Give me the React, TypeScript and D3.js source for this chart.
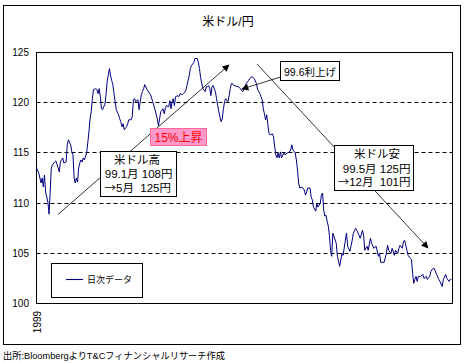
import React from 'react';
import * as d3 from 'd3';

// 1999 USD/JPY daily, day of year -> rate
const days = [
  0, 2, 4, 5, 6, 7, 8, 10, 11, 12, 13, 14, 16, 17, 19, 20, 21, 23, 24, 26,
  27, 28, 30, 31, 32, 33, 34, 35, 36, 37, 38, 39, 40, 41, 42, 44, 45, 46, 47, 48,
  49, 50, 52, 53, 54, 55, 56, 57, 58, 59, 60, 61, 62, 64, 65, 66, 67, 68, 69, 70,
  72, 73, 74, 75, 76, 77, 79, 80, 81, 83, 84, 85, 86, 87, 89, 90, 91, 92, 93, 94,
  95, 97, 100, 102, 104, 106, 107, 108, 109, 111, 112, 113, 114, 116, 117, 118, 119, 120, 121, 122,
  124, 125, 126, 128, 129, 131, 132, 134, 135, 136, 138, 139, 141, 142, 143, 144, 145, 146, 148, 149,
  150, 151, 152, 153, 154, 155, 156, 157, 158, 159, 160, 162, 163, 164, 165, 166, 167, 168, 169, 170,
  171, 172, 173, 174, 176, 177, 179, 180, 181, 183, 184, 186, 187, 189, 191, 193, 194, 196, 197, 198,
  199, 200, 201, 202, 203, 204, 205, 207, 208, 209, 210, 211, 212, 213, 214, 215, 217, 218, 220, 222,
  223, 224, 225, 227, 228, 229, 230, 231, 233, 235, 236, 237, 238, 240, 241, 242, 243, 245, 246, 247,
  248, 249, 250, 251, 252, 253, 254, 255, 256, 257, 258, 259, 260, 263, 264, 266, 268, 269, 271, 272,
  273, 275, 277, 278, 280, 281, 283, 284, 286, 287, 288, 290, 291, 293, 294, 296, 298, 300, 301, 302,
  304, 305, 307, 308, 309, 311, 312, 314, 315, 317, 318, 319, 321, 322, 323, 325, 326, 328, 329, 330,
  331, 332, 333, 334, 335, 337, 339, 340, 342, 343, 345, 346, 348, 349, 351, 353, 354, 356, 357, 359,
  360, 362, 363, 364,
];

const rates = [
  113.5, 113.0, 112.0, 112.5, 111.6, 112.8, 111.1, 110.1, 108.9, 111.1, 113.5, 113.8, 114.1, 114.2, 113.5, 113.1, 114.1, 114.5, 114.0, 114.1,
  115.8, 116.3, 115.8, 115.1, 114.8, 112.5, 112.0, 112.5, 112.1, 113.5, 114.0, 114.3, 114.1, 114.5, 114.3, 115.0, 116.0, 117.1, 118.4, 119.1,
  120.4, 121.3, 121.4, 121.3, 120.9, 121.4, 120.6, 119.4, 119.3, 119.6, 119.8, 120.8, 122.1, 123.4, 122.7, 122.2, 121.8, 120.9, 120.1, 119.3,
  118.8, 118.4, 118.1, 117.6, 117.9, 117.3, 117.6, 117.9, 118.3, 118.3, 118.6, 120.3, 120.4, 120.1, 120.3, 119.3, 120.1, 120.8, 121.1, 121.4,
  121.8, 121.3, 120.8, 120.1, 119.3, 118.4, 117.7, 118.4, 119.1, 119.4, 118.9, 119.4, 119.7, 119.6, 120.2, 119.4, 120.1, 120.4, 119.7, 120.6,
  120.7, 120.6, 120.9, 120.8, 120.9, 121.2, 121.7, 122.7, 123.4, 123.7, 124.0, 124.4, 124.4, 124.0, 123.4, 122.5, 121.9, 121.4, 121.1, 121.6,
  121.6, 121.7, 121.4, 120.7, 121.6, 121.7, 121.4, 121.1, 120.4, 119.7, 119.1, 118.1, 118.4, 119.4, 120.1, 120.4, 120.2, 120.1, 120.7, 121.4,
  121.9, 121.9, 121.7, 121.7, 121.6, 121.6, 121.4, 121.2, 121.1, 121.6, 121.9, 122.2, 122.4, 122.6, 122.4, 121.9, 121.3, 120.9, 120.6, 120.3,
  119.4, 118.9, 118.3, 118.8, 117.8, 116.9, 116.8, 116.9, 116.6, 115.6, 114.8, 114.5, 115.0, 114.5, 115.1, 114.5, 115.0, 114.8, 115.0, 115.1,
  115.3, 115.8, 115.3, 115.0, 114.3, 113.3, 112.0, 111.5, 111.6, 111.3, 110.8, 111.1, 111.5, 111.5, 110.6, 110.3, 109.6, 109.2, 110.0, 109.6,
  109.8, 110.0, 110.8, 111.0, 109.3, 108.7, 108.8, 108.2, 107.7, 106.8, 105.3, 104.7, 107.0, 106.0, 104.7, 103.7, 105.0, 104.8, 106.3, 107.0,
  105.7, 105.2, 106.3, 107.0, 107.5, 107.3, 106.8, 106.5, 107.3, 106.8, 105.3, 105.7, 105.3, 106.5, 106.0, 105.5, 105.7, 104.7, 105.0, 104.1,
  104.1, 104.1, 105.0, 105.8, 105.3, 105.0, 105.5, 104.8, 105.3, 105.0, 105.5, 105.8, 105.5, 106.2, 106.3, 105.3, 104.8, 104.5, 104.4, 103.0,
  102.0, 102.4, 102.7, 102.2, 102.7, 102.7, 102.9, 102.5, 102.7, 102.4, 102.7, 103.2, 103.5, 103.5, 102.9, 102.4, 102.2, 101.7, 102.4, 102.9,
  102.5, 102.2, 102.4, 102.4,
];

const yTicks = [100, 105, 110, 115, 120, 125];
const gridValues = [105, 110, 115, 120];
const title = '米ドル/円';
const yearLabel = '1999';
const legendLabel = '日次データ';
const source = '出所:BloombergよりT&Cフィナンシャルリサーチ作成';
const riseLabel = '15%上昇';
const hikeLabel = '99.6利上げ';
const upBox = ['米ドル高', '99.1月 108円', '5月  125円'];
const downBox = ['米ドル安', '99.5月 125円', '12月  101円'];

const FONT = '"Liberation Sans", Arial, "Noto Sans CJK JP", sans-serif';
const CJK = '"Noto Sans CJK JP", sans-serif';
const LINE_COLOR = '#000080';

export default function App() {
  const W = 465;
  const H = 363;
  const plot = { left: 36.5, top: 52.5, right: 452.5, bottom: 303.5 };

  const x = d3
    .scaleTime()
    .domain([new Date(1999, 0, 1), new Date(2000, 0, 1)])
    .range([plot.left, plot.right]);
  const y = d3.scaleLinear().domain([100, 125]).range([plot.bottom, plot.top]);

  const start = new Date(1999, 0, 1);
  const pts = days
    .slice(0, Math.min(days.length, rates.length))
    .map((d, i) => ({ date: d3.timeDay.offset(start, d), v: rates[i] }));

  const line = d3
    .line<{ date: Date; v: number }>()
    .x(d => x(d.date))
    .y(d => y(d.v));

  const crisp = (v: number) => Math.round(v - 0.5) + 0.5;

  return (
    <svg
      width={W}
      height={H}
      style={{ position: 'fixed', left: 0, top: 0, background: '#fff' }}
      fontFamily={FONT}
    >
      <defs>
        <marker
          id="arr"
          viewBox="0 0 10 10"
          refX="9"
          refY="5"
          markerWidth="9"
          markerHeight="7"
          markerUnits="userSpaceOnUse"
          orient="auto"
        >
          <path d="M0,0 L10,5 L0,10 z" fill="#000" />
        </marker>
      </defs>

      {/* outer frame */}
      <rect x={3.5} y={5.5} width={457} height={339} fill="#fff" stroke="#000" />

      <text x={228} y={26} textAnchor="middle" fontSize={12} fill="#000">
        {title}
      </text>

      {/* grid */}
      {gridValues.map(g => (
        <line
          key={g}
          x1={plot.left}
          x2={plot.right}
          y1={crisp(y(g))}
          y2={crisp(y(g))}
          stroke="#000"
          strokeDasharray="4,3"
        />
      ))}

      {yTicks.map(t => (
        <text key={t} x={29} y={y(t) + 3.5} textAnchor="end" fontSize={10} fill="#000">
          {t}
        </text>
      ))}

      <rect
        x={plot.left}
        y={plot.top}
        width={plot.right - plot.left}
        height={plot.bottom - plot.top}
        fill="none"
        stroke="#000"
      />

      <text
        transform={`translate(${plot.left + 4},322) rotate(-90)`}
        textAnchor="middle"
        fontSize={10}
        fill="#000"
      >
        {yearLabel}
      </text>

      <path d={line(pts) || ''} fill="none" stroke={LINE_COLOR} strokeWidth={1} />

      {/* annotation arrows */}
      <line x1={58} y1={214.5} x2={229} y2={65} stroke="#000" strokeWidth={0.8} markerEnd="url(#arr)" />
      <line x1={257} y1={64} x2={428} y2={248} stroke="#000" strokeWidth={0.8} markerEnd="url(#arr)" />
      <line x1={280.5} y1={77} x2={242} y2={89} stroke="#000" strokeWidth={0.8} markerEnd="url(#arr)" />

      {/* 15% rise tag */}
      <rect x={150.5} y={128.5} width={56} height={17} fill="#ff99cc" stroke="#ff6699" />
      <text x={178.5} y={142} textAnchor="middle" fontSize={12} fill="#ff0000">
        {riseLabel}
      </text>

      {/* rate hike tag */}
      <rect x={280.5} y={61.5} width={59} height={19} fill="#fff" stroke="#000" />
      <text x={310} y={75.5} textAnchor="middle" fontSize={10.5} fill="#000">
        {hikeLabel}
      </text>

      {/* dollar high box */}
      <rect x={100.5} y={151.5} width={76} height={45} fill="#fff" stroke="#000" />
      <text x={137} y={164} textAnchor="middle" fontSize={11.5} fill="#000">
        {upBox[0]}
      </text>
      <text x={172.5} y={177.5} textAnchor="end" fontSize={11.5} fill="#000" style={{ whiteSpace: 'pre' }}>
        {upBox[1]}
      </text>
      <text x={171} y={191.5} textAnchor="end" fontSize={11.5} fill="#000" style={{ whiteSpace: 'pre' }}>
        <tspan fontFamily={CJK}>→</tspan>
        {upBox[2]}
      </text>

      {/* dollar low box */}
      <rect x={334.5} y={145.5} width={79} height={45} fill="#fff" stroke="#000" />
      <text x={377} y={158} textAnchor="middle" fontSize={11.5} fill="#000">
        {downBox[0]}
      </text>
      <text x={410.5} y={172.5} textAnchor="end" fontSize={11.5} fill="#000" style={{ whiteSpace: 'pre' }}>
        {downBox[1]}
      </text>
      <text x={410.5} y={186} textAnchor="end" fontSize={11.5} fill="#000" style={{ whiteSpace: 'pre' }}>
        <tspan fontFamily={CJK}>→</tspan>
        {downBox[2]}
      </text>

      {/* legend */}
      <rect x={51.5} y={263.5} width={91} height={34} fill="#fff" stroke="#000" />
      <line x1={66} x2={83} y1={279.5} y2={279.5} stroke={LINE_COLOR} strokeWidth={1.1} />
      <text x={87} y={283} fontSize={9} fill="#000">
        {legendLabel}
      </text>

      <text x={3} y={358.5} fontSize={9.5} fill="#000" textLength={222} lengthAdjust="spacingAndGlyphs">
        {source}
      </text>
    </svg>
  );
}
